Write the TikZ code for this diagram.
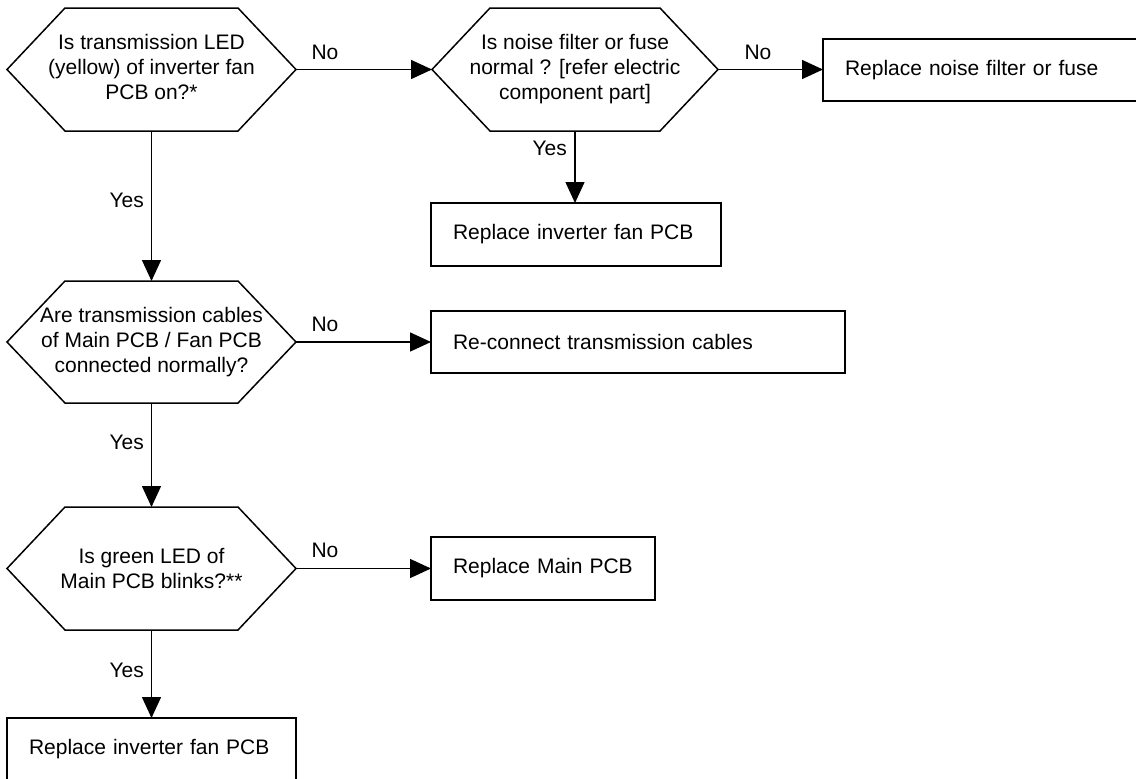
\documentclass[tikz,border=0pt]{standalone}
\usepackage{fontspec}
\setmainfont{Liberation Sans}
\usetikzlibrary{arrows.meta}
\begin{document}
\begin{tikzpicture}[x=1pt,y=-1pt,
  every node/.style={font=\fontsize{21}{25}\selectfont},
  hexa/.style={inner sep=0pt, outer sep=0pt, minimum width=289pt, minimum height=123pt, align=center},
  box/.style={draw, line width=1.5pt, inner xsep=22pt, inner ysep=0pt, minimum height=62pt, align=left, anchor=north west, outer sep=0pt},
  lbl/.style={inner sep=0pt},
  arr/.style={line width=1.5pt, -{Triangle[length=21pt,width=19pt]}},
  hexline/.style={line width=1.5pt, line join=miter}]
\useasboundingbox (0,0) rectangle (1136,779);
\clip (0,0) rectangle (1136,779);

% decision nodes (hexagons)
\node[hexa] (h1) at (151.5,69.5) {\raisebox{-3pt}{\begin{tabular}{@{}c@{}}Is transmission LED\\(yellow) of inverter fan\\PCB on?*\end{tabular}}};
\node[hexa, minimum width=286pt] (h2) at (575,69.5) {Is noise filter or fuse\\normal ? [refer electric\\component part]};
\node[hexa, minimum height=122pt] (h3) at (151.5,342) {Are transmission cables\\of Main PCB / Fan PCB\\connected normally?};
\node[hexa] (h5) at (151.5,568.5) {Is green LED of\\Main PCB blinks?**};

\foreach \n in {h1,h2,h3,h5}{
  \draw[hexline] (\n.west) -- ([xshift=58pt]\n.north west) -- ([xshift=-58pt]\n.north east)
    -- (\n.east) -- ([xshift=-58pt]\n.south east) -- ([xshift=58pt]\n.south west) -- cycle;
}

% action boxes
\node[box, text width=400pt] (b1) at (823,39) {Replace noise filter or fuse};
\node[box, text width=246pt, minimum height=63pt] (b2) at (431,203) {Replace inverter fan PCB};
\node[box, text width=370pt] (b3) at (431,311) {Re-connect transmission cables};
\node[box, text width=180pt, minimum height=63pt] (b4) at (431,537) {Replace Main PCB};
\node[box, text width=245pt] (b5) at (7,718) {Replace inverter fan PCB};

% connectors
\draw[arr] (h1.east) -- (h2.west);
\draw[arr] (h2.east) -- (h2.east -| b1.west);
\draw[arr] (h2.south) -- (h2.south |- b2.north);
\draw[arr] (h1.south) -- (h3.north);
\draw[arr] (h3.east) -- (h3.east -| b3.west);
\draw[arr] (h3.south) -- (h5.north);
\draw[arr] (h5.east) -- (h5.east -| b4.west);
\draw[arr] (h5.south) -- (h5.south |- b5.north);

% labels
\node[lbl] (l1) at (325,52) {No};
\node[lbl] (l2) at (758,52) {No};
\node[lbl, anchor=east] (l3) at (567,148) {Yes};
\node[lbl, anchor=east] (l4) at (144,200) {Yes};
\node[lbl] (l5) at (325,324) {No};
\node[lbl, anchor=east] (l6) at (144,442) {Yes};
\node[lbl] (l7) at (325,550) {No};
\node[lbl, anchor=east] (l8) at (144,670) {Yes};
\end{tikzpicture}
\end{document}
